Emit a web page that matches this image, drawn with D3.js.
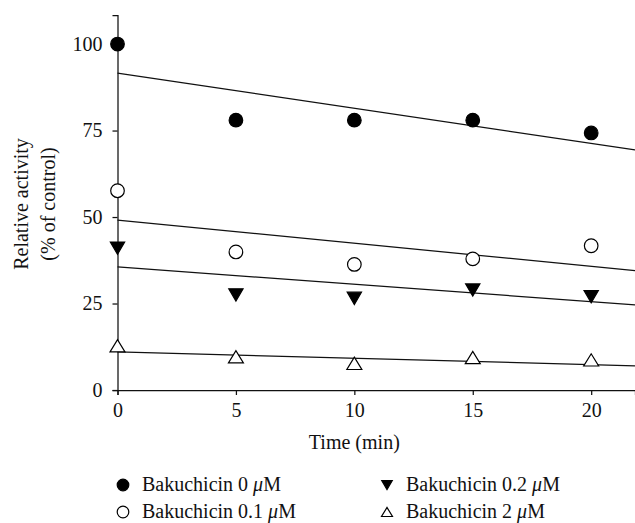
<!DOCTYPE html>
<html>
<head>
<meta charset="utf-8">
<script src="https://cdn.jsdelivr.net/npm/d3@7"></script>
<style>
  body { margin: 0; background: #fff; }
  svg text { font-family: "Liberation Serif", "Times New Roman", serif; fill: #111; }
</style>
</head>
<body>
<div id="chart"></div>
<script>
// data
const times = [0, 5, 10, 15, 20];
const conc0 = [100, 78, 78, 78, 74.3];
const conc01 = [57.6, 39.9, 36.3, 37.9, 41.7];
const conc02 = [41, 27.5, 26.5, 28.9, 27];
const conc2 = [12.8, 9.6, 7.7, 9.4, 8.7];
// fitted lines: [intercept, slope]
const fits = [[91.6, -1.016], [49.1, -0.668], [35.6, -0.503], [11.0, -0.183]];
const seriesNames = ["Bakuchicin 0", "Bakuchicin 0.1", "Bakuchicin 0.2", "Bakuchicin 2"];
const symbols = ["dot", "circle", "tridown", "triup"];
const xTicks = [0, 5, 10, 15, 20];
const yTicks = [0, 25, 50, 75, 100];

const W = 635, H = 523;
const svg = d3.select("#chart").append("svg").attr("width", W).attr("height", H);

const x = d3.scaleLinear().domain([0, 21.85]).range([117.5, 635]);
const y = d3.scaleLinear().domain([0, 108.4]).range([390, 15]);

// axes
const yAxis = svg.append("g").attr("transform", "translate(117.5,0)")
  .call(d3.axisLeft(y).tickValues(yTicks).tickSize(5).tickPadding(10));
const xAxis = svg.append("g").attr("transform", "translate(0,390)")
  .call(d3.axisBottom(x).tickValues(xTicks).tickSize(5).tickPadding(8));
[xAxis, yAxis].forEach(a => {
  a.selectAll("path, line").attr("stroke", "#111").attr("stroke-width", 1.25);
  a.selectAll("text").style("font-size", "20px").style("font-family", "Liberation Serif, serif");
});

// axis titles
svg.append("text").attr("x", x(10)).attr("y", 449).attr("text-anchor", "middle")
  .style("font-size", "20px").text("Time (min)");
const yt = svg.append("text").attr("transform", "translate(0,204) rotate(-90)")
  .attr("text-anchor", "middle").style("font-size", "20px");
yt.append("tspan").attr("x", 0).attr("y", 28).text("Relative activity");
yt.append("tspan").attr("x", 0).attr("y", 55).text("(% of control)");

// fitted lines
const xEnd = x.domain()[1];
fits.forEach(f => {
  svg.append("line")
    .attr("x1", x(0)).attr("y1", y(f[0]))
    .attr("x2", x(xEnd)).attr("y2", y(f[0] + f[1] * xEnd))
    .attr("stroke", "#111").attr("stroke-width", 1.25);
});

function drawSymbol(g, kind, cx, cy, r) {
  if (kind === "dot" || kind === "circle") {
    g.append("circle").attr("cx", cx).attr("cy", cy).attr("r", r)
      .attr("fill", kind === "dot" ? "#000" : "#fff")
      .attr("stroke", "#000").attr("stroke-width", 1.2);
  } else {
    const h = r * 1.8;
    const pts = kind === "tridown"
      ? [[cx - r * 1.05, cy - h / 2], [cx + r * 1.05, cy - h / 2], [cx, cy + h / 2]]
      : [[cx - r * 1.1, cy + h / 2], [cx + r * 1.1, cy + h / 2], [cx, cy - h / 2]];
    g.append("polygon").attr("points", pts.map(p => p.join(",")).join(" "))
      .attr("fill", kind === "tridown" ? "#000" : "#fff")
      .attr("stroke", "#000").attr("stroke-width", 1.2).attr("stroke-linejoin", "miter");
  }
}

const allSeries = [conc0, conc01, conc02, conc2];
const marks = svg.append("g");
allSeries.forEach((vals, i) => {
  vals.forEach((v, j) => drawSymbol(marks, symbols[i], x(times[j]), y(v), 6.8));
});

// legend
const legendPos = [[123, 485], [123, 512], [387, 485], [387, 512]];
const lg = svg.append("g");
seriesNames.forEach((name, i) => {
  const [lx, ly] = legendPos[i];
  const round = symbols[i] === "dot" || symbols[i] === "circle";
  drawSymbol(lg, symbols[i], lx, ly, round ? 5.8 : 5);
  const t = lg.append("text").attr("x", lx + 19).attr("y", ly + 6).style("font-size", "20px");
  t.append("tspan").text(name + " ");
  t.append("tspan").style("font-style", "italic").text("\u03BC");
  t.append("tspan").text("M");
});
</script>
</body>
</html>
